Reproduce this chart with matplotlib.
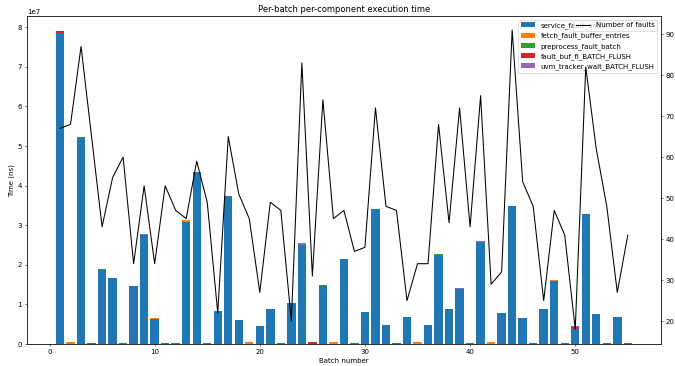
import numpy as np
import matplotlib
matplotlib.use('Agg')
import matplotlib.pyplot as plt

batches = list(range(1, 56))

# times in units of 1e7 ns
service = [7.85, 0.01, 5.19, 0.03, 1.86, 1.68, 0.03, 1.46, 2.76, 0.64,
           0.03, 0.03, 3.09, 4.35, 0.03, 0.83, 3.74, 0.61, 0.01, 0.45,
           0.88, 0.03, 1.04, 2.51, 0.01, 1.46, 0.01, 2.15, 0.03, 0.82,
           3.41, 0.48, 0.03, 0.69, 0.01, 0.48, 2.24, 0.88, 1.39, 0.03,
           2.57, 0.01, 0.78, 3.49, 0.65, 0.03, 0.88, 1.58, 0.03, 0.39,
           3.28, 0.75, 0.03, 0.68, 0.03]
fetch = [0, 0.03, 0, 0, 0, 0, 0, 0, 0, 0.03,
         0, 0, 0.03, 0, 0, 0, 0, 0, 0.03, 0,
         0, 0, 0, 0, 0, 0, 0.03, 0, 0, 0,
         0, 0, 0, 0, 0.03, 0, 0, 0, 0, 0,
         0, 0.03, 0, 0, 0, 0, 0, 0.03, 0, 0,
         0, 0, 0, 0, 0]
preprocess = [0, 0, 0.03, 0, 0.03, 0, 0, 0, 0, 0,
              0, 0, 0, 0, 0, 0, 0, 0, 0, 0,
              0, 0, 0, 0, 0, 0.03, 0, 0, 0, 0,
              0, 0, 0, 0, 0, 0, 0.03, 0, 0, 0,
              0, 0, 0, 0, 0, 0, 0, 0, 0, 0,
              0, 0, 0, 0, 0]
buf_flush = [0.05, 0, 0, 0, 0, 0, 0, 0, 0, 0,
             0, 0, 0, 0, 0, 0, 0, 0, 0, 0,
             0, 0, 0, 0, 0.03, 0, 0, 0, 0, 0,
             0, 0, 0, 0, 0, 0, 0, 0, 0, 0,
             0, 0, 0, 0, 0, 0, 0, 0, 0, 0.04,
             0, 0, 0, 0, 0]
tracker_wait = [0, 0, 0, 0, 0, 0, 0, 0, 0.03, 0,
                0, 0, 0, 0, 0, 0, 0, 0, 0, 0,
                0, 0, 0, 0.03, 0, 0, 0, 0, 0, 0,
                0, 0, 0, 0, 0, 0, 0, 0, 0.03, 0,
                0.03, 0, 0, 0, 0, 0, 0, 0, 0, 0.02,
                0, 0, 0, 0, 0]

faults = [67, 68, 87, 65, 43, 55, 60, 34, 53, 34,
          53, 47, 45, 59, 49, 22, 65, 51, 45, 27,
          49, 47, 20, 83, 31, 74, 45, 47, 37, 38,
          72, 48, 47, 25, 34, 34, 68, 44, 72, 43,
          75, 29, 32, 91, 54, 48, 25, 47, 41, 18,
          82, 62, 48, 27, 41]

components = [
    ('service_fault_batch', service),
    ('fetch_fault_buffer_entries', fetch),
    ('preprocess_fault_batch', preprocess),
    ('fault_buf_fl_BATCH_FLUSH', buf_flush),
    ('uvm_tracker_wait_BATCH_FLUSH', tracker_wait),
]

fig, ax = plt.subplots(figsize=(13.5, 7.32), dpi=50)
bottom = np.zeros(len(batches))
for name, vals in components:
    v = np.array(vals) * 1e7
    ax.bar(batches, v, bottom=bottom, label=name)
    bottom += v

ax.set_ylim(0, 8.28e7)
ax.set_xlabel('Batch number')
ax.set_ylabel('Time (ns)')
ax.set_title('Per-batch per-component execution time')
ax.legend(loc='upper right')

ax2 = ax.twinx()
ax2.plot(batches, faults, color='black', label='Number of faults')
ax2.set_ylim(14.4, 94.4)
ax2.legend(loc='upper right')

fig.subplots_adjust(left=0.04, right=0.979, bottom=0.06, top=0.956)
fig.savefig('out.png', dpi=50)
